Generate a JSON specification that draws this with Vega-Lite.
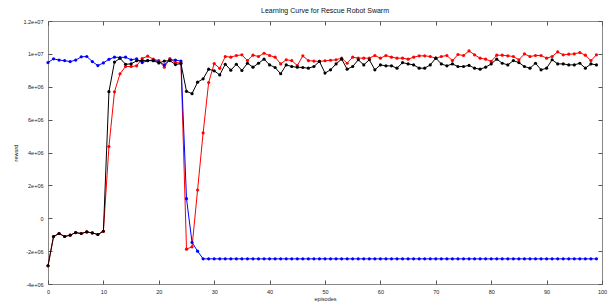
{
"$schema":"https://vega.github.io/schema/vega-lite/v6.json",
"autosize":{"type":"none"},
"padding":{"left":48,"top":21,"right":9,"bottom":21},
"width":554,"height":263,
"background":"white",
"config":{"view":{"stroke":"#888888","strokeWidth":1},"font":"Liberation Sans",
 "axis":{"grid":false,"domain":false,"tickColor":"#555555","labelColor":"#222222","labelFontSize":5.5,"titleFontSize":5.5,"titleFontWeight":"normal","titleColor":"#222222","labelFont":"Liberation Sans","titleFont":"Liberation Sans"}},
"title":{"text":"Learning Curve for Rescue Robot Swarm","fontSize":7,"fontWeight":"normal","font":"Liberation Sans","color":"#111111","offset":5,"anchor":"middle"},
"datasets":{"d":[
{"s":"red","e":0,"v":-2890000},{"s":"red","e":1,"v":-1110000},{"s":"red","e":2,"v":-930000},{"s":"red","e":3,"v":-1110000},{"s":"red","e":4,"v":-1030000},{"s":"red","e":5,"v":-870000},{"s":"red","e":6,"v":-930000},{"s":"red","e":7,"v":-830000},{"s":"red","e":8,"v":-890000},{"s":"red","e":9,"v":-990000},
{"s":"red","e":10,"v":-790000},{"s":"red","e":11,"v":4360000},{"s":"red","e":12,"v":7690000},{"s":"red","e":13,"v":8790000},{"s":"red","e":14,"v":9230000},{"s":"red","e":15,"v":9230000},{"s":"red","e":16,"v":9270000},{"s":"red","e":17,"v":9720000},{"s":"red","e":18,"v":9860000},{"s":"red","e":19,"v":9680000},
{"s":"red","e":20,"v":9590000},{"s":"red","e":21,"v":9190000},{"s":"red","e":22,"v":9720000},{"s":"red","e":23,"v":9470000},{"s":"red","e":24,"v":9450000},{"s":"red","e":25,"v":-1880000},{"s":"red","e":26,"v":-1740000},{"s":"red","e":27,"v":1720000},{"s":"red","e":28,"v":5190000},{"s":"red","e":29,"v":8260000},
{"s":"red","e":30,"v":9410000},{"s":"red","e":31,"v":9120000},{"s":"red","e":32,"v":9840000},{"s":"red","e":33,"v":9800000},{"s":"red","e":34,"v":9900000},{"s":"red","e":35,"v":9940000},{"s":"red","e":36,"v":9590000},{"s":"red","e":37,"v":9920000},{"s":"red","e":38,"v":9840000},{"s":"red","e":39,"v":10040000},
{"s":"red","e":40,"v":9900000},{"s":"red","e":41,"v":9800000},{"s":"red","e":42,"v":9390000},{"s":"red","e":43,"v":9640000},{"s":"red","e":44,"v":9590000},{"s":"red","e":45,"v":9290000},{"s":"red","e":46,"v":9880000},{"s":"red","e":47,"v":9590000},{"s":"red","e":48,"v":9560000},{"s":"red","e":49,"v":9540000},
{"s":"red","e":50,"v":9580000},{"s":"red","e":51,"v":9610000},{"s":"red","e":52,"v":9640000},{"s":"red","e":53,"v":9740000},{"s":"red","e":54,"v":9430000},{"s":"red","e":55,"v":9800000},{"s":"red","e":56,"v":9740000},{"s":"red","e":57,"v":9740000},{"s":"red","e":58,"v":9740000},{"s":"red","e":59,"v":9900000},
{"s":"red","e":60,"v":9740000},{"s":"red","e":61,"v":9900000},{"s":"red","e":62,"v":9800000},{"s":"red","e":63,"v":9740000},{"s":"red","e":64,"v":9740000},{"s":"red","e":65,"v":9680000},{"s":"red","e":66,"v":9800000},{"s":"red","e":67,"v":9880000},{"s":"red","e":68,"v":9880000},{"s":"red","e":69,"v":9840000},
{"s":"red","e":70,"v":9740000},{"s":"red","e":71,"v":9840000},{"s":"red","e":72,"v":9900000},{"s":"red","e":73,"v":9590000},{"s":"red","e":74,"v":9960000},{"s":"red","e":75,"v":9900000},{"s":"red","e":76,"v":10180000},{"s":"red","e":77,"v":9940000},{"s":"red","e":78,"v":9740000},{"s":"red","e":79,"v":9680000},
{"s":"red","e":80,"v":9540000},{"s":"red","e":81,"v":9920000},{"s":"red","e":82,"v":9920000},{"s":"red","e":83,"v":9880000},{"s":"red","e":84,"v":9840000},{"s":"red","e":85,"v":9640000},{"s":"red","e":86,"v":10000000},{"s":"red","e":87,"v":9840000},{"s":"red","e":88,"v":9900000},{"s":"red","e":89,"v":9900000},
{"s":"red","e":90,"v":9740000},{"s":"red","e":91,"v":9840000},{"s":"red","e":92,"v":10120000},{"s":"red","e":93,"v":9940000},{"s":"red","e":94,"v":9980000},{"s":"red","e":95,"v":10000000},{"s":"red","e":96,"v":10080000},{"s":"red","e":97,"v":9920000},{"s":"red","e":98,"v":9590000},{"s":"red","e":99,"v":9940000},
{"s":"blue","e":0,"v":9470000},{"s":"blue","e":1,"v":9700000},{"s":"blue","e":2,"v":9620000},{"s":"blue","e":3,"v":9590000},{"s":"blue","e":4,"v":9530000},{"s":"blue","e":5,"v":9620000},{"s":"blue","e":6,"v":9820000},{"s":"blue","e":7,"v":9840000},{"s":"blue","e":8,"v":9530000},{"s":"blue","e":9,"v":9290000},
{"s":"blue","e":10,"v":9450000},{"s":"blue","e":11,"v":9670000},{"s":"blue","e":12,"v":9800000},{"s":"blue","e":13,"v":9780000},{"s":"blue","e":14,"v":9800000},{"s":"blue","e":15,"v":9640000},{"s":"blue","e":16,"v":9700000},{"s":"blue","e":17,"v":9470000},{"s":"blue","e":18,"v":9590000},{"s":"blue","e":19,"v":9620000},
{"s":"blue","e":20,"v":9520000},{"s":"blue","e":21,"v":9330000},{"s":"blue","e":22,"v":9640000},{"s":"blue","e":23,"v":9620000},{"s":"blue","e":24,"v":9560000},{"s":"blue","e":25,"v":1190000},{"s":"blue","e":26,"v":-1470000},{"s":"blue","e":27,"v":-2000000},{"s":"blue","e":28,"v":-2470000},{"s":"blue","e":29,"v":-2470000},
{"s":"blue","e":30,"v":-2470000},{"s":"blue","e":31,"v":-2470000},{"s":"blue","e":32,"v":-2470000},{"s":"blue","e":33,"v":-2470000},{"s":"blue","e":34,"v":-2470000},{"s":"blue","e":35,"v":-2470000},{"s":"blue","e":36,"v":-2470000},{"s":"blue","e":37,"v":-2470000},{"s":"blue","e":38,"v":-2470000},{"s":"blue","e":39,"v":-2470000},
{"s":"blue","e":40,"v":-2470000},{"s":"blue","e":41,"v":-2470000},{"s":"blue","e":42,"v":-2470000},{"s":"blue","e":43,"v":-2470000},{"s":"blue","e":44,"v":-2470000},{"s":"blue","e":45,"v":-2470000},{"s":"blue","e":46,"v":-2470000},{"s":"blue","e":47,"v":-2470000},{"s":"blue","e":48,"v":-2470000},{"s":"blue","e":49,"v":-2470000},
{"s":"blue","e":50,"v":-2470000},{"s":"blue","e":51,"v":-2470000},{"s":"blue","e":52,"v":-2470000},{"s":"blue","e":53,"v":-2470000},{"s":"blue","e":54,"v":-2470000},{"s":"blue","e":55,"v":-2470000},{"s":"blue","e":56,"v":-2470000},{"s":"blue","e":57,"v":-2470000},{"s":"blue","e":58,"v":-2470000},{"s":"blue","e":59,"v":-2470000},
{"s":"blue","e":60,"v":-2470000},{"s":"blue","e":61,"v":-2470000},{"s":"blue","e":62,"v":-2470000},{"s":"blue","e":63,"v":-2470000},{"s":"blue","e":64,"v":-2470000},{"s":"blue","e":65,"v":-2470000},{"s":"blue","e":66,"v":-2470000},{"s":"blue","e":67,"v":-2470000},{"s":"blue","e":68,"v":-2470000},{"s":"blue","e":69,"v":-2470000},
{"s":"blue","e":70,"v":-2470000},{"s":"blue","e":71,"v":-2470000},{"s":"blue","e":72,"v":-2470000},{"s":"blue","e":73,"v":-2470000},{"s":"blue","e":74,"v":-2470000},{"s":"blue","e":75,"v":-2470000},{"s":"blue","e":76,"v":-2470000},{"s":"blue","e":77,"v":-2470000},{"s":"blue","e":78,"v":-2470000},{"s":"blue","e":79,"v":-2470000},
{"s":"blue","e":80,"v":-2470000},{"s":"blue","e":81,"v":-2470000},{"s":"blue","e":82,"v":-2470000},{"s":"blue","e":83,"v":-2470000},{"s":"blue","e":84,"v":-2470000},{"s":"blue","e":85,"v":-2470000},{"s":"blue","e":86,"v":-2470000},{"s":"blue","e":87,"v":-2470000},{"s":"blue","e":88,"v":-2470000},{"s":"blue","e":89,"v":-2470000},
{"s":"blue","e":90,"v":-2470000},{"s":"blue","e":91,"v":-2470000},{"s":"blue","e":92,"v":-2470000},{"s":"blue","e":93,"v":-2470000},{"s":"blue","e":94,"v":-2470000},{"s":"blue","e":95,"v":-2470000},{"s":"blue","e":96,"v":-2470000},{"s":"blue","e":97,"v":-2470000},{"s":"blue","e":98,"v":-2470000},{"s":"blue","e":99,"v":-2470000},
{"s":"black","e":0,"v":-2890000},{"s":"black","e":1,"v":-1110000},{"s":"black","e":2,"v":-930000},{"s":"black","e":3,"v":-1110000},{"s":"black","e":4,"v":-1030000},{"s":"black","e":5,"v":-870000},{"s":"black","e":6,"v":-930000},{"s":"black","e":7,"v":-830000},{"s":"black","e":8,"v":-890000},{"s":"black","e":9,"v":-990000},
{"s":"black","e":10,"v":-790000},{"s":"black","e":11,"v":7700000},{"s":"black","e":12,"v":9500000},{"s":"black","e":13,"v":9730000},{"s":"black","e":14,"v":9370000},{"s":"black","e":15,"v":9390000},{"s":"black","e":16,"v":9580000},{"s":"black","e":17,"v":9590000},{"s":"black","e":18,"v":9590000},{"s":"black","e":19,"v":9580000},
{"s":"black","e":20,"v":9450000},{"s":"black","e":21,"v":9560000},{"s":"black","e":22,"v":9590000},{"s":"black","e":23,"v":9350000},{"s":"black","e":24,"v":9410000},{"s":"black","e":25,"v":7720000},{"s":"black","e":26,"v":7580000},{"s":"black","e":27,"v":8280000},{"s":"black","e":28,"v":8480000},{"s":"black","e":29,"v":9070000},
{"s":"black","e":30,"v":8970000},{"s":"black","e":31,"v":8720000},{"s":"black","e":32,"v":9370000},{"s":"black","e":33,"v":9010000},{"s":"black","e":34,"v":9370000},{"s":"black","e":35,"v":8990000},{"s":"black","e":36,"v":9430000},{"s":"black","e":37,"v":9190000},{"s":"black","e":38,"v":9430000},{"s":"black","e":39,"v":9680000},
{"s":"black","e":40,"v":9330000},{"s":"black","e":41,"v":9170000},{"s":"black","e":42,"v":8790000},{"s":"black","e":43,"v":9330000},{"s":"black","e":44,"v":9230000},{"s":"black","e":45,"v":9190000},{"s":"black","e":46,"v":9170000},{"s":"black","e":47,"v":9130000},{"s":"black","e":48,"v":9230000},{"s":"black","e":49,"v":9540000},
{"s":"black","e":50,"v":8830000},{"s":"black","e":51,"v":9030000},{"s":"black","e":52,"v":9390000},{"s":"black","e":53,"v":9680000},{"s":"black","e":54,"v":9070000},{"s":"black","e":55,"v":9230000},{"s":"black","e":56,"v":9640000},{"s":"black","e":57,"v":9330000},{"s":"black","e":58,"v":9640000},{"s":"black","e":59,"v":9030000},
{"s":"black","e":60,"v":9330000},{"s":"black","e":61,"v":9270000},{"s":"black","e":62,"v":9270000},{"s":"black","e":63,"v":9130000},{"s":"black","e":64,"v":9470000},{"s":"black","e":65,"v":9390000},{"s":"black","e":66,"v":9330000},{"s":"black","e":67,"v":9130000},{"s":"black","e":68,"v":9130000},{"s":"black","e":69,"v":9330000},
{"s":"black","e":70,"v":9740000},{"s":"black","e":71,"v":9390000},{"s":"black","e":72,"v":9270000},{"s":"black","e":73,"v":9390000},{"s":"black","e":74,"v":9230000},{"s":"black","e":75,"v":9230000},{"s":"black","e":76,"v":9300000},{"s":"black","e":77,"v":9130000},{"s":"black","e":78,"v":9070000},{"s":"black","e":79,"v":9190000},
{"s":"black","e":80,"v":9390000},{"s":"black","e":81,"v":9680000},{"s":"black","e":82,"v":9430000},{"s":"black","e":83,"v":9330000},{"s":"black","e":84,"v":9590000},{"s":"black","e":85,"v":9470000},{"s":"black","e":86,"v":9230000},{"s":"black","e":87,"v":9130000},{"s":"black","e":88,"v":9430000},{"s":"black","e":89,"v":9030000},
{"s":"black","e":90,"v":9130000},{"s":"black","e":91,"v":9640000},{"s":"black","e":92,"v":9390000},{"s":"black","e":93,"v":9390000},{"s":"black","e":94,"v":9330000},{"s":"black","e":95,"v":9330000},{"s":"black","e":96,"v":9430000},{"s":"black","e":97,"v":9130000},{"s":"black","e":98,"v":9390000},{"s":"black","e":99,"v":9330000}
]},
"data":{"name":"d"},
"layer":[
{"transform":[{"filter":"datum.s==='red'"}],
 "mark":{"type":"line","color":"#ff0000","strokeWidth":1,"point":{"filled":true,"size":10,"color":"#ff0000"}},
 "encoding":{
  "x":{"field":"e","type":"quantitative","scale":{"domain":[0,100],"nice":false},
       "axis":{"orient":"bottom","values":[0,10,20,30,40,50,60,70,80,90,100],"tickSize":-4,"labelPadding":9,"title":"episodes","titlePadding":2,"labelFlush":false}},
  "y":{"field":"v","type":"quantitative","scale":{"domain":[-4000000,12000000],"nice":false,"zero":false},
       "axis":{"orient":"left","values":[-4000000,-2000000,0,2000000,4000000,6000000,8000000,10000000,12000000],"tickSize":-4,"labelPadding":9,"title":"reward","titlePadding":4,
        "labelExpr":"datum.value==0?'0':(datum.value/pow(10,floor(log(abs(datum.value))/LN10+1e-9)))+'e+0'+floor(log(abs(datum.value))/LN10+1e-9)"}}}},
{"transform":[{"filter":"datum.s==='blue'"}],
 "mark":{"type":"line","color":"#0000ff","strokeWidth":1,"point":{"filled":true,"size":10,"color":"#0000ff"}},
 "encoding":{
  "x":{"field":"e","type":"quantitative","axis":null},
  "y":{"field":"v","type":"quantitative","axis":null}}},
{"transform":[{"filter":"datum.s==='black'"}],
 "mark":{"type":"line","color":"#000000","strokeWidth":1,"point":{"filled":true,"size":10,"color":"#000000"}},
 "encoding":{
  "x":{"field":"e","type":"quantitative","axis":{"orient":"top","values":[0,10,20,30,40,50,60,70,80,90,100],"tickSize":-4,"labels":false,"title":null}},
  "y":{"field":"v","type":"quantitative","axis":{"orient":"right","values":[-4000000,-2000000,0,2000000,4000000,6000000,8000000,10000000,12000000],"tickSize":-4,"labels":false,"title":null}}}}
],
"resolve":{"axis":{"x":"independent","y":"independent"}}
}
